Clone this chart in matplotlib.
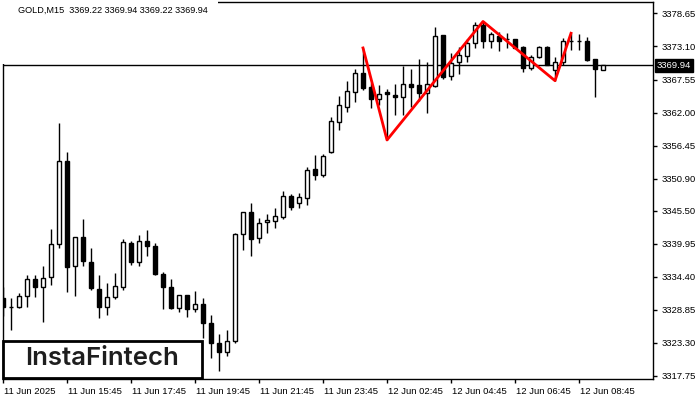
import matplotlib
matplotlib.use("Agg")
import matplotlib.pyplot as plt
import matplotlib.transforms as mtransforms
from matplotlib.patches import Rectangle

# GOLD M15 bars
opens = [3330.85, 3329.40, 3329.38, 3331.23, 3333.99, 3332.64, 3334.32, 3339.87, 3353.86, 3336.27,
         3341.04, 3336.84, 3332.31, 3329.28, 3330.96, 3332.64, 3340.04, 3336.94, 3340.47, 3339.58,
         3334.88, 3332.64, 3329.22, 3331.35, 3328.95, 3329.79, 3326.60, 3323.24, 3321.69, 3323.67,
         3341.55, 3345.24, 3340.88, 3343.56, 3343.83, 3344.50, 3347.98, 3346.76, 3347.60, 3352.52,
         3351.56, 3355.42, 3360.46, 3362.98, 3365.50, 3368.60, 3366.24, 3364.23, 3365.40, 3364.95,
         3364.56, 3366.80, 3366.63, 3365.24, 3366.51, 3375.03, 3368.14, 3370.44, 3371.55, 3373.64,
         3376.71, 3374.07, 3374.86, 3374.30, 3374.31, 3372.96, 3369.54, 3371.38, 3372.96, 3369.15,
         3370.44, 3374.05, 3374.09, 3374.02, 3371.00, 3369.22]
highs = [3332.69, 3330.85, 3331.69, 3334.71, 3334.71, 3336.22, 3342.39, 3360.20, 3355.32, 3341.04,
         3344.12, 3339.30, 3334.71, 3333.42, 3335.00, 3340.76, 3340.42, 3341.43, 3342.27, 3340.14,
         3335.26, 3334.04, 3331.35, 3331.35, 3332.02, 3330.80, 3327.99, 3324.75, 3325.47, 3341.82,
         3345.24, 3346.76, 3344.24, 3344.96, 3345.92, 3348.82, 3348.27, 3348.44, 3352.80, 3354.87,
         3355.04, 3361.20, 3364.78, 3367.35, 3369.27, 3372.85, 3366.97, 3366.63, 3365.91, 3366.80,
         3369.87, 3369.27, 3370.95, 3370.44, 3376.42, 3375.03, 3371.96, 3373.06, 3374.36, 3377.20,
         3377.30, 3375.58, 3375.58, 3375.32, 3374.40, 3373.23, 3371.67, 3373.23, 3373.23, 3371.28,
         3374.48, 3375.32, 3375.15, 3374.74, 3371.00, 3369.94]
lows = [3327.82, 3325.47, 3329.17, 3329.38, 3331.06, 3326.86, 3333.03, 3339.30, 3331.90, 3331.23,
        3336.27, 3332.19, 3327.44, 3327.99, 3330.68, 3332.19, 3336.39, 3336.27, 3337.90, 3334.71,
        3329.00, 3329.00, 3328.54, 3327.60, 3328.54, 3324.18, 3320.82, 3318.63, 3321.15, 3323.34,
        3338.91, 3337.90, 3340.14, 3341.82, 3342.66, 3344.12, 3345.63, 3346.02, 3346.47, 3350.67,
        3351.22, 3355.16, 3359.07, 3362.14, 3363.82, 3365.79, 3362.82, 3363.27, 3357.39, 3361.59,
        3361.59, 3362.88, 3363.99, 3361.98, 3366.34, 3367.64, 3367.47, 3368.48, 3370.54, 3372.90,
        3372.90, 3372.90, 3372.39, 3372.80, 3372.80, 3368.86, 3369.15, 3371.12, 3369.99, 3367.35,
        3369.99, 3372.51, 3372.51, 3370.66, 3364.66, 3369.22]
closes = [3329.33, 3329.35, 3331.23, 3333.99, 3332.64, 3334.16, 3339.87, 3353.86, 3336.10, 3341.04,
          3337.06, 3332.48, 3329.38, 3330.96, 3332.86, 3340.20, 3336.94, 3340.47, 3339.58, 3334.83,
          3332.64, 3329.22, 3331.35, 3328.95, 3329.79, 3326.60, 3323.34, 3321.82, 3323.67, 3341.55,
          3345.24, 3340.71, 3343.40, 3343.95, 3344.62, 3347.98, 3346.18, 3347.76, 3352.35, 3351.56,
          3354.70, 3360.58, 3363.27, 3365.62, 3368.60, 3366.18, 3364.23, 3365.07, 3365.07, 3364.56,
          3366.75, 3366.34, 3365.24, 3366.75, 3374.91, 3368.02, 3370.38, 3371.67, 3373.74, 3376.71,
          3374.07, 3375.20, 3374.07, 3374.32, 3372.90, 3369.54, 3371.38, 3372.96, 3369.99, 3370.44,
          3374.07, 3374.08, 3374.07, 3370.83, 3369.27, 3369.94]

time_tick_bars = [0, 8, 16, 24, 32, 40, 48, 56, 64, 72]
time_tick_labels = ["11 Jun 2025", "11 Jun 15:45", "11 Jun 17:45", "11 Jun 19:45", "11 Jun 21:45",
                    "11 Jun 23:45", "12 Jun 02:45", "12 Jun 04:45", "12 Jun 06:45", "12 Jun 08:45"]
price_ticks = [3378.65, 3373.10, 3367.55, 3362.00, 3356.45, 3350.90,
               3345.50, 3339.95, 3334.40, 3328.85, 3323.30, 3317.75]

# triple top pattern: bar index and which extreme it sits on
pattern_bars = [45, 48, 60, 69, 71]
pattern_ends = ["high", "low", "high", "low", "high"]

title = "GOLD,M15  3369.22 3369.94 3369.22 3369.94"
small_font = "Liberation Sans"

W, H = 700, 400
fig = plt.figure(figsize=(7, 4), dpi=100)
left, right, top, bottom = 2.5, 653, 2, 378.5
ax = fig.add_axes([left / W, 1 - bottom / H, (right - left) / W, (bottom - top) / H])

n = len(opens)
x = list(range(n))

ax.vlines(x, lows, highs, color="black", linewidth=1, zorder=2)
for i in x:
    o, c = opens[i], closes[i]
    up = c >= o
    ax.bar(i, max(abs(c - o), 0.01), bottom=min(o, c), width=0.6,
           facecolor="white" if up else "black", edgecolor="black",
           linewidth=1, zorder=3)

# current price line
last = closes[-1]
ax.axhline(last, color="black", linewidth=1, zorder=1)

# pattern lines
py = [highs[b] if k == "high" else lows[b] for b, k in zip(pattern_bars, pattern_ends)]
ax.plot(pattern_bars, py, color="red", linewidth=2, zorder=4)

ax.set_xlim(-0.0625, 81.25)
ax.set_ylim(3317.32, 3380.57)

ax.yaxis.tick_right()
ax.set_yticks(price_ticks)
ax.set_yticklabels([f"{p:.2f}" for p in price_ticks], fontsize=6.8, family=small_font)
ax.tick_params(axis="y", length=3, width=1, pad=3)

ax.set_xticks(time_tick_bars)
ax.set_xticklabels(time_tick_labels, fontsize=6.8, family=small_font, ha="left")
ax.tick_params(axis="x", length=3, width=1, pad=3)
for lab in ax.get_xticklabels():
    lab.set_transform(lab.get_transform() + mtransforms.ScaledTranslation(1 / 100, 0, fig.dpi_scale_trans))

for s in ax.spines.values():
    s.set_linewidth(1)

# current price tag on the right
trans = mtransforms.blended_transform_factory(ax.transAxes, ax.transData)
trans = mtransforms.offset_copy(trans, fig=fig, x=4, y=0, units="dots")
ax.text(1.0, last, f"{last:.2f}", transform=trans, fontsize=6.8, family=small_font,
        color="white", va="center", ha="left",
        bbox=dict(boxstyle="square,pad=0.2", facecolor="black", edgecolor="black"),
        clip_on=False)

# white cover behind the header text
fig.add_artist(Rectangle((0, 1 - 64 / H), 218 / W, 64 / H, transform=fig.transFigure,
                         facecolor="white", edgecolor="none", zorder=5))
fig.text(18 / W, 1 - 10.5 / H, title, fontsize=6.6, family=small_font,
         va="center", ha="left", zorder=6)

# logo box
fig.add_artist(Rectangle((2.7 / W, 1 - 378.3 / H), 199 / W, 37.6 / H, transform=fig.transFigure,
                         facecolor="white", edgecolor="black", linewidth=2, zorder=7))
fig.text(101.7 / W, 1 - 358.5 / H, "InstaFintech", fontsize=18.5, family="Inter",
         fontweight="semibold", color="#1e1e1e", va="center", ha="center", zorder=8)

fig.savefig("out.png", dpi=100)
